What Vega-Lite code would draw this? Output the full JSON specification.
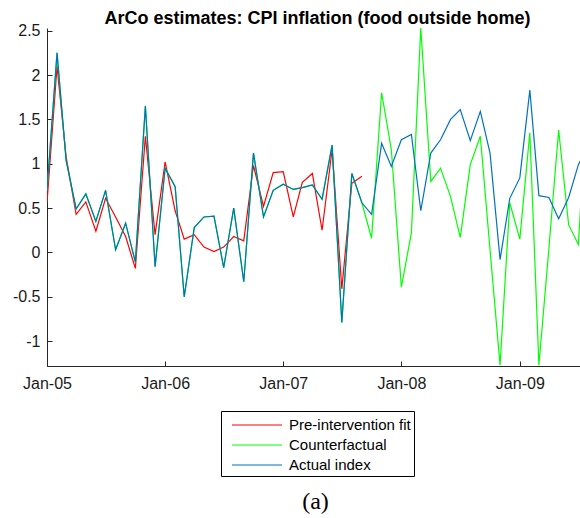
{
  "$schema": "https://vega.github.io/schema/vega-lite/v6.json",
  "autosize": "none",
  "padding": {"left": 47, "top": 28, "right": 0, "bottom": 152},
  "width": 533,
  "height": 338,
  "background": "white",
  "title": {
    "text": "ArCo estimates: CPI inflation (food outside home)",
    "font": "Liberation Sans",
    "fontSize": 18,
    "fontWeight": "bold",
    "color": "#000000",
    "anchor": "middle",
    "dx": 4,
    "offset": -5
  },
  "config": {
    "view": {"stroke": null},
    "axis": {
      "grid": false,
      "domainColor": "#262626",
      "tickColor": "#262626",
      "labelColor": "#1a1a1a",
      "labelFont": "Liberation Sans",
      "labelFontSize": 16,
      "tickSize": -5
    }
  },
  "data": {
    "values": [
      {"d": "2005-01-01", "fit": 0.56, "counterfactual": 0.70, "actual": 0.70},
      {"d": "2005-02-01", "fit": 2.10, "counterfactual": 2.25, "actual": 2.25},
      {"d": "2005-03-01", "fit": 1.08, "counterfactual": 1.04, "actual": 1.04},
      {"d": "2005-04-01", "fit": 0.43, "counterfactual": 0.49, "actual": 0.49},
      {"d": "2005-05-01", "fit": 0.57, "counterfactual": 0.66, "actual": 0.66},
      {"d": "2005-06-01", "fit": 0.24, "counterfactual": 0.35, "actual": 0.35},
      {"d": "2005-07-01", "fit": 0.61, "counterfactual": 0.70, "actual": 0.70},
      {"d": "2005-08-01", "fit": 0.40, "counterfactual": 0.03, "actual": 0.03},
      {"d": "2005-09-01", "fit": 0.18, "counterfactual": 0.33, "actual": 0.33},
      {"d": "2005-10-01", "fit": -0.18, "counterfactual": -0.11, "actual": -0.11},
      {"d": "2005-11-01", "fit": 1.31, "counterfactual": 1.65, "actual": 1.65},
      {"d": "2005-12-01", "fit": 0.20, "counterfactual": -0.16, "actual": -0.16},
      {"d": "2006-01-01", "fit": 1.02, "counterfactual": 0.95, "actual": 0.95},
      {"d": "2006-02-01", "fit": 0.47, "counterfactual": 0.74, "actual": 0.74},
      {"d": "2006-03-01", "fit": 0.15, "counterfactual": -0.50, "actual": -0.50},
      {"d": "2006-04-01", "fit": 0.20, "counterfactual": 0.28, "actual": 0.28},
      {"d": "2006-05-01", "fit": 0.06, "counterfactual": 0.40, "actual": 0.40},
      {"d": "2006-06-01", "fit": 0.01, "counterfactual": 0.41, "actual": 0.41},
      {"d": "2006-07-01", "fit": 0.06, "counterfactual": -0.17, "actual": -0.17},
      {"d": "2006-08-01", "fit": 0.18, "counterfactual": 0.50, "actual": 0.50},
      {"d": "2006-09-01", "fit": 0.13, "counterfactual": -0.33, "actual": -0.33},
      {"d": "2006-10-01", "fit": 0.98, "counterfactual": 1.12, "actual": 1.12},
      {"d": "2006-11-01", "fit": 0.52, "counterfactual": 0.40, "actual": 0.40},
      {"d": "2006-12-01", "fit": 0.90, "counterfactual": 0.70, "actual": 0.70},
      {"d": "2007-01-01", "fit": 0.91, "counterfactual": 0.77, "actual": 0.77},
      {"d": "2007-02-01", "fit": 0.40, "counterfactual": 0.71, "actual": 0.71},
      {"d": "2007-03-01", "fit": 0.79, "counterfactual": 0.73, "actual": 0.73},
      {"d": "2007-04-01", "fit": 0.89, "counterfactual": 0.76, "actual": 0.76},
      {"d": "2007-05-01", "fit": 0.25, "counterfactual": 0.60, "actual": 0.60},
      {"d": "2007-06-01", "fit": 1.16, "counterfactual": 1.21, "actual": 1.21},
      {"d": "2007-07-01", "fit": -0.41, "counterfactual": -0.79, "actual": -0.79},
      {"d": "2007-08-01", "fit": 0.78, "counterfactual": 0.89, "actual": 0.89},
      {"d": "2007-09-01", "fit": 0.86, "counterfactual": 0.56, "actual": 0.56},
      {"d": "2007-10-01", "fit": null, "counterfactual": 0.16, "actual": 0.43},
      {"d": "2007-11-01", "fit": null, "counterfactual": 1.80, "actual": 1.23},
      {"d": "2007-12-01", "fit": null, "counterfactual": 1.16, "actual": 0.97},
      {"d": "2008-01-01", "fit": null, "counterfactual": -0.39, "actual": 1.27},
      {"d": "2008-02-01", "fit": null, "counterfactual": 0.22, "actual": 1.33},
      {"d": "2008-03-01", "fit": null, "counterfactual": 2.53, "actual": 0.47},
      {"d": "2008-04-01", "fit": null, "counterfactual": 0.80, "actual": 1.12},
      {"d": "2008-05-01", "fit": null, "counterfactual": 0.95, "actual": 1.27},
      {"d": "2008-06-01", "fit": null, "counterfactual": 0.63, "actual": 1.50},
      {"d": "2008-07-01", "fit": null, "counterfactual": 0.17, "actual": 1.61},
      {"d": "2008-08-01", "fit": null, "counterfactual": 0.99, "actual": 1.26},
      {"d": "2008-09-01", "fit": null, "counterfactual": 1.31, "actual": 1.59},
      {"d": "2008-10-01", "fit": null, "counterfactual": 0.03, "actual": 1.12},
      {"d": "2008-11-01", "fit": null, "counterfactual": -1.27, "actual": -0.08},
      {"d": "2008-12-01", "fit": null, "counterfactual": 0.56, "actual": 0.61},
      {"d": "2009-01-01", "fit": null, "counterfactual": 0.15, "actual": 0.84},
      {"d": "2009-02-01", "fit": null, "counterfactual": 1.35, "actual": 1.83},
      {"d": "2009-03-01", "fit": null, "counterfactual": -1.27, "actual": 0.64},
      {"d": "2009-04-01", "fit": null, "counterfactual": 0.05, "actual": 0.62},
      {"d": "2009-05-01", "fit": null, "counterfactual": 1.38, "actual": 0.38},
      {"d": "2009-06-01", "fit": null, "counterfactual": 0.31, "actual": 0.62},
      {"d": "2009-07-01", "fit": null, "counterfactual": 0.09, "actual": 0.99},
      {"d": "2009-08-01", "fit": null, "counterfactual": 2.0, "actual": 1.2}
    ]
  },
  "transform": [
    {"fold": ["fit", "counterfactual", "actual"], "as": ["series", "value"]}
  ],
  "encoding": {
    "x": {
      "field": "d",
      "type": "temporal",
      "scale": {
        "type": "utc",
        "domain": [
          {"year": 2005, "month": 1, "date": 1, "utc": true},
          {"year": 2009, "month": 7, "date": 6, "utc": true}
        ]
      },
      "axis": {
        "values": [
          {"year": 2005, "month": 1, "date": 1, "utc": true},
          {"year": 2006, "month": 1, "date": 1, "utc": true},
          {"year": 2007, "month": 1, "date": 1, "utc": true},
          {"year": 2008, "month": 1, "date": 1, "utc": true},
          {"year": 2009, "month": 1, "date": 1, "utc": true}
        ],
        "labelExpr": "utcFormat(datum.value, '%b-%y')",
        "labelFlush": false,
        "labelOverlap": false,
        "labelPadding": 14,
        "title": "(a)",
        "titleFont": "Liberation Serif",
        "titleFontSize": 24,
        "titleFontWeight": "normal",
        "titleColor": "#000000",
        "titleX": 268,
        "titleY": 142,
        "titleAlign": "center",
        "titleBaseline": "alphabetic"
      }
    },
    "y": {
      "field": "value",
      "type": "quantitative",
      "scale": {"domain": [-1.28, 2.53], "nice": false, "zero": false},
      "axis": {
        "values": [-1, -0.5, 0, 0.5, 1, 1.5, 2, 2.5],
        "labelExpr": "'' + datum.value",
        "labelPadding": 12,
        "title": null
      }
    },
    "color": {
      "field": "series",
      "type": "nominal",
      "scale": {
        "domain": ["fit", "counterfactual", "actual"],
        "range": ["#ff0000", "#00ff00", "#0072bd"]
      },
      "legend": {
        "title": null,
        "orient": "none",
        "legendX": 174,
        "legendY": 383,
        "direction": "vertical",
        "strokeColor": "#000000",
        "fillColor": "#ffffff",
        "padding": 3,
        "cornerRadius": 0,
        "symbolType": "M-2.5,0H2.5",
        "symbolSize": 400,
        "symbolStrokeWidth": 1.2,
        "symbolOffset": 22,
        "labelOffset": 21,
        "labelFont": "Liberation Sans",
        "labelFontSize": 15,
        "labelColor": "#000000",
        "rowPadding": 1,
        "labelExpr": "datum.label == 'fit' ? 'Pre-intervention fit' : datum.label == 'counterfactual' ? 'Counterfactual' : 'Actual index'"
      }
    }
  },
  "layer": [
    {
      "transform": [{"filter": "datum.series == 'fit'"}],
      "mark": {"type": "line", "strokeWidth": 1.2, "clip": true}
    },
    {
      "transform": [{"filter": "datum.series == 'counterfactual'"}],
      "mark": {"type": "line", "strokeWidth": 1.2, "clip": true}
    },
    {
      "transform": [{"filter": "datum.series == 'actual'"}],
      "mark": {"type": "line", "strokeWidth": 1.2, "clip": true}
    }
  ]
}
